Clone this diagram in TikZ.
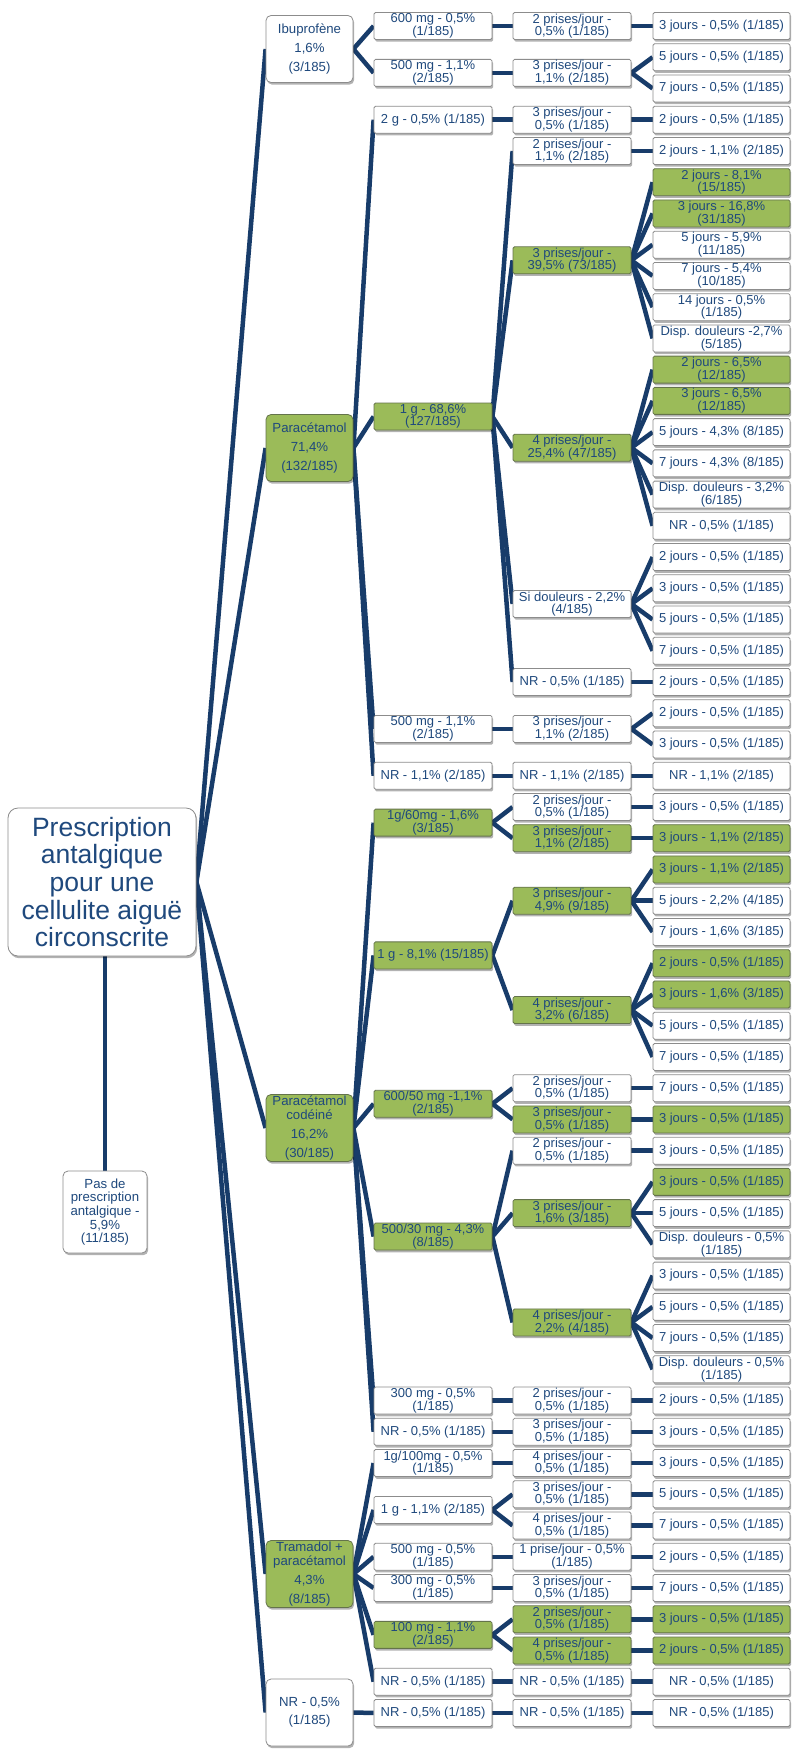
\documentclass[tikz,border=0pt]{standalone}
\usepackage{fontspec}
\setmainfont{Liberation Sans}
\usetikzlibrary{shadows}
\definecolor{txtblue}{RGB}{31,73,125}
\definecolor{lineblue}{RGB}{24,60,106}
\definecolor{boxgreen}{RGB}{155,187,89}
\definecolor{greenborder}{RGB}{100,115,75}
\pgfdeclarelayer{lines}
\pgfsetlayers{lines,main}
\newcommand{\R}[1]{#1*31.24-5.24}
\newcommand{\cn}[2]{\draw[conn] (#1.east) -- (#2.west);}
\tikzset{
 base/.style={rectangle, align=center, text=txtblue, inner sep=1pt, draw=black!45, line width=0.8pt,
   drop shadow={shadow xshift=1.2pt, shadow yshift=-2.2pt, opacity=0.3, fill=black}},
 wbox/.style={base, fill=white},
 gbox/.style={base, fill=boxgreen, draw=greenborder},
 sbox/.style={font=\fontsize{13}{12.6}\selectfont, minimum height=27pt, rounded corners=1.5pt},
 c2/.style={sbox, minimum width=118pt},
 c3/.style={sbox, minimum width=118pt},
 c4/.style={sbox, minimum width=137pt},
 c1/.style={font=\fontsize{13.2}{19}\selectfont, minimum width=87pt, minimum height=67pt, rounded corners=5pt},
 conn/.style={draw=lineblue, line width=4.5pt},
}
\begin{document}
\begin{tikzpicture}[x=1pt,y=-1pt]
\useasboundingbox (0,0) rectangle (795,1752);
\begin{pgfonlayer}{lines}
\fill[white] (0,0) rectangle (795,1752);
\end{pgfonlayer}
% root
\node[wbox, font=\fontsize{26.5}{27.6}\selectfont, minimum width=188pt, minimum height=148pt, rounded corners=10pt] (root) at (102,882)
 {Prescription\\antalgique\\pour une\\cellulite aiguë\\circonscrite};
\node[wbox, font=\fontsize{13.2}{13.7}\selectfont, minimum width=84pt, minimum height=82pt, rounded corners=5pt] (pas) at (105,1212)
 {Pas de\\prescription\\antalgique -\\5,9\%\\(11/185)};
% column 1
\node[wbox,c1] (ib) at (309.5,49) {Ibuprofène\\1,6\%\\(3/185)};
\node[gbox,c1] (para) at (309.5,448) {Paracétamol\\71,4\%\\(132/185)};
\node[gbox,c1] (cod) at (309.5,1128) {Paracétamol\\[-5pt]codéiné\\16,2\%\\(30/185)};
\node[gbox,c1] (tram) at (309.5,1574) {Tramadol +\\[-5pt]paracétamol\\4,3\%\\(8/185)};
\node[wbox,c1,font=\fontsize{13.2}{18.4}\selectfont] (nrA) at (309.5,1712.5) {NR - 0,5\%\\(1/185)};
% column 2
\node[wbox,c2] (c2a) at (433,{\R{1}}) {600 mg - 0,5\%\\(1/185)};
\node[wbox,c2] (c2b) at (433,{\R{2.5}}) {500 mg - 1,1\%\\(2/185)};
\node[wbox,c2] (c2c) at (433,{\R{4}}) {2 g - 0,5\% (1/185)};
\node[gbox,c2] (c2d) at (433,{\R{13.5}}) {1 g - 68,6\%\\(127/185)};
\node[wbox,c2] (c2e) at (433,{\R{23.5}}) {500 mg - 1,1\%\\(2/185)};
\node[wbox,c2] (c2f) at (433,{\R{25}}) {NR - 1,1\% (2/185)};
\node[gbox,c2] (c2g) at (433,{\R{26.5}}) {1g/60mg - 1,6\%\\(3/185)};
\node[gbox,c2] (c2h) at (433,{\R{30.75}}) {1 g - 8,1\% (15/185)};
\node[gbox,c2] (c2i) at (433,{\R{35.5}}) {600/50 mg -1,1\%\\(2/185)};
\node[gbox,c2] (c2j) at (433,{\R{39.75}}) {500/30 mg - 4,3\%\\(8/185)};
\node[wbox,c2] (c2k) at (433,{\R{45}}) {300 mg - 0,5\%\\(1/185)};
\node[wbox,c2] (c2l) at (433,{\R{46}}) {NR - 0,5\% (1/185)};
\node[wbox,c2] (c2m) at (433,{\R{47}}) {1g/100mg - 0,5\%\\(1/185)};
\node[wbox,c2] (c2n) at (433,{\R{48.5}}) {1 g - 1,1\% (2/185)};
\node[wbox,c2] (c2o) at (433,{\R{50}}) {500 mg - 0,5\%\\(1/185)};
\node[wbox,c2] (c2p) at (433,{\R{51}}) {300 mg - 0,5\%\\(1/185)};
\node[gbox,c2] (c2q) at (433,{\R{52.5}}) {100 mg - 1,1\%\\(2/185)};
\node[wbox,c2] (c2r) at (433,{\R{54}}) {NR - 0,5\% (1/185)};
\node[wbox,c2] (c2s) at (433,{\R{55}}) {NR - 0,5\% (1/185)};
% column 3
\node[wbox,c3] (c3a) at (572,{\R{1}}) {2 prises/jour -\\0,5\% (1/185)};
\node[wbox,c3] (c3b) at (572,{\R{2.5}}) {3 prises/jour -\\1,1\% (2/185)};
\node[wbox,c3] (c3c) at (572,{\R{4}}) {3 prises/jour -\\0,5\% (1/185)};
\node[wbox,c3] (c3d) at (572,{\R{5}}) {2 prises/jour -\\1,1\% (2/185)};
\node[gbox,c3] (c3e) at (572,{\R{8.5}}) {3 prises/jour -\\39,5\% (73/185)};
\node[gbox,c3] (c3f) at (572,{\R{14.5}}) {4 prises/jour -\\25,4\% (47/185)};
\node[wbox,c3] (c3g) at (572,{\R{19.5}}) {Si douleurs - 2,2\%\\(4/185)};
\node[wbox,c3] (c3h) at (572,{\R{22}}) {NR - 0,5\% (1/185)};
\node[wbox,c3] (c3i) at (572,{\R{23.5}}) {3 prises/jour -\\1,1\% (2/185)};
\node[wbox,c3] (c3j) at (572,{\R{25}}) {NR - 1,1\% (2/185)};
\node[wbox,c3] (c3k) at (572,{\R{26}}) {2 prises/jour -\\0,5\% (1/185)};
\node[gbox,c3] (c3l) at (572,{\R{27}}) {3 prises/jour -\\1,1\% (2/185)};
\node[gbox,c3] (c3m) at (572,{\R{29}}) {3 prises/jour -\\4,9\% (9/185)};
\node[gbox,c3] (c3n) at (572,{\R{32.5}}) {4 prises/jour -\\3,2\% (6/185)};
\node[wbox,c3] (c3o) at (572,{\R{35}}) {2 prises/jour -\\0,5\% (1/185)};
\node[gbox,c3] (c3p) at (572,{\R{36}}) {3 prises/jour -\\0,5\% (1/185)};
\node[wbox,c3] (c3q) at (572,{\R{37}}) {2 prises/jour -\\0,5\% (1/185)};
\node[gbox,c3] (c3r) at (572,{\R{39}}) {3 prises/jour -\\1,6\% (3/185)};
\node[gbox,c3] (c3s) at (572,{\R{42.5}}) {4 prises/jour -\\2,2\% (4/185)};
\node[wbox,c3] (c3t) at (572,{\R{45}}) {2 prises/jour -\\0,5\% (1/185)};
\node[wbox,c3] (c3u) at (572,{\R{46}}) {3 prises/jour -\\0,5\% (1/185)};
\node[wbox,c3] (c3v) at (572,{\R{47}}) {4 prises/jour -\\0,5\% (1/185)};
\node[wbox,c3] (c3w) at (572,{\R{48}}) {3 prises/jour -\\0,5\% (1/185)};
\node[wbox,c3] (c3x) at (572,{\R{49}}) {4 prises/jour -\\0,5\% (1/185)};
\node[wbox,c3] (c3y) at (572,{\R{50}}) {1 prise/jour - 0,5\%\\(1/185)};
\node[wbox,c3] (c3z) at (572,{\R{51}}) {3 prises/jour -\\0,5\% (1/185)};
\node[gbox,c3] (c3aa) at (572,{\R{52}}) {2 prises/jour -\\0,5\% (1/185)};
\node[gbox,c3] (c3ab) at (572,{\R{53}}) {4 prises/jour -\\0,5\% (1/185)};
\node[wbox,c3] (c3ac) at (572,{\R{54}}) {NR - 0,5\% (1/185)};
\node[wbox,c3] (c3ad) at (572,{\R{55}}) {NR - 0,5\% (1/185)};
% column 4
\node[wbox,c4] (d1) at (721.5,{\R{1}}) {3 jours - 0,5\% (1/185)};
\node[wbox,c4] (d2) at (721.5,{\R{2}}) {5 jours - 0,5\% (1/185)};
\node[wbox,c4] (d3) at (721.5,{\R{3}}) {7 jours - 0,5\% (1/185)};
\node[wbox,c4] (d4) at (721.5,{\R{4}}) {2 jours - 0,5\% (1/185)};
\node[wbox,c4] (d5) at (721.5,{\R{5}}) {2 jours - 1,1\% (2/185)};
\node[gbox,c4] (d6) at (721.5,{\R{6}}) {2 jours - 8,1\%\\(15/185)};
\node[gbox,c4] (d7) at (721.5,{\R{7}}) {3 jours - 16,8\%\\(31/185)};
\node[wbox,c4] (d8) at (721.5,{\R{8}}) {5 jours - 5,9\%\\(11/185)};
\node[wbox,c4] (d9) at (721.5,{\R{9}}) {7 jours - 5,4\%\\(10/185)};
\node[wbox,c4] (d10) at (721.5,{\R{10}}) {14 jours - 0,5\%\\(1/185)};
\node[wbox,c4] (d11) at (721.5,{\R{11}}) {Disp. douleurs -2,7\%\\(5/185)};
\node[gbox,c4] (d12) at (721.5,{\R{12}}) {2 jours - 6,5\%\\(12/185)};
\node[gbox,c4] (d13) at (721.5,{\R{13}}) {3 jours - 6,5\%\\(12/185)};
\node[wbox,c4] (d14) at (721.5,{\R{14}}) {5 jours - 4,3\% (8/185)};
\node[wbox,c4] (d15) at (721.5,{\R{15}}) {7 jours - 4,3\% (8/185)};
\node[wbox,c4] (d16) at (721.5,{\R{16}}) {Disp. douleurs - 3,2\%\\(6/185)};
\node[wbox,c4] (d17) at (721.5,{\R{17}}) {NR - 0,5\% (1/185)};
\node[wbox,c4] (d18) at (721.5,{\R{18}}) {2 jours - 0,5\% (1/185)};
\node[wbox,c4] (d19) at (721.5,{\R{19}}) {3 jours - 0,5\% (1/185)};
\node[wbox,c4] (d20) at (721.5,{\R{20}}) {5 jours - 0,5\% (1/185)};
\node[wbox,c4] (d21) at (721.5,{\R{21}}) {7 jours - 0,5\% (1/185)};
\node[wbox,c4] (d22) at (721.5,{\R{22}}) {2 jours - 0,5\% (1/185)};
\node[wbox,c4] (d23) at (721.5,{\R{23}}) {2 jours - 0,5\% (1/185)};
\node[wbox,c4] (d24) at (721.5,{\R{24}}) {3 jours - 0,5\% (1/185)};
\node[wbox,c4] (d25) at (721.5,{\R{25}}) {NR - 1,1\% (2/185)};
\node[wbox,c4] (d26) at (721.5,{\R{26}}) {3 jours - 0,5\% (1/185)};
\node[gbox,c4] (d27) at (721.5,{\R{27}}) {3 jours - 1,1\% (2/185)};
\node[gbox,c4] (d28) at (721.5,{\R{28}}) {3 jours - 1,1\% (2/185)};
\node[wbox,c4] (d29) at (721.5,{\R{29}}) {5 jours - 2,2\% (4/185)};
\node[wbox,c4] (d30) at (721.5,{\R{30}}) {7 jours - 1,6\% (3/185)};
\node[gbox,c4] (d31) at (721.5,{\R{31}}) {2 jours - 0,5\% (1/185)};
\node[gbox,c4] (d32) at (721.5,{\R{32}}) {3 jours - 1,6\% (3/185)};
\node[wbox,c4] (d33) at (721.5,{\R{33}}) {5 jours - 0,5\% (1/185)};
\node[wbox,c4] (d34) at (721.5,{\R{34}}) {7 jours - 0,5\% (1/185)};
\node[wbox,c4] (d35) at (721.5,{\R{35}}) {7 jours - 0,5\% (1/185)};
\node[gbox,c4] (d36) at (721.5,{\R{36}}) {3 jours - 0,5\% (1/185)};
\node[wbox,c4] (d37) at (721.5,{\R{37}}) {3 jours - 0,5\% (1/185)};
\node[gbox,c4] (d38) at (721.5,{\R{38}}) {3 jours - 0,5\% (1/185)};
\node[wbox,c4] (d39) at (721.5,{\R{39}}) {5 jours - 0,5\% (1/185)};
\node[wbox,c4] (d40) at (721.5,{\R{40}}) {Disp. douleurs - 0,5\%\\(1/185)};
\node[wbox,c4] (d41) at (721.5,{\R{41}}) {3 jours - 0,5\% (1/185)};
\node[wbox,c4] (d42) at (721.5,{\R{42}}) {5 jours - 0,5\% (1/185)};
\node[wbox,c4] (d43) at (721.5,{\R{43}}) {7 jours - 0,5\% (1/185)};
\node[wbox,c4] (d44) at (721.5,{\R{44}}) {Disp. douleurs - 0,5\%\\(1/185)};
\node[wbox,c4] (d45) at (721.5,{\R{45}}) {2 jours - 0,5\% (1/185)};
\node[wbox,c4] (d46) at (721.5,{\R{46}}) {3 jours - 0,5\% (1/185)};
\node[wbox,c4] (d47) at (721.5,{\R{47}}) {3 jours - 0,5\% (1/185)};
\node[wbox,c4] (d48) at (721.5,{\R{48}}) {5 jours - 0,5\% (1/185)};
\node[wbox,c4] (d49) at (721.5,{\R{49}}) {7 jours - 0,5\% (1/185)};
\node[wbox,c4] (d50) at (721.5,{\R{50}}) {2 jours - 0,5\% (1/185)};
\node[wbox,c4] (d51) at (721.5,{\R{51}}) {7 jours - 0,5\% (1/185)};
\node[gbox,c4] (d52) at (721.5,{\R{52}}) {3 jours - 0,5\% (1/185)};
\node[gbox,c4] (d53) at (721.5,{\R{53}}) {2 jours - 0,5\% (1/185)};
\node[wbox,c4] (d54) at (721.5,{\R{54}}) {NR - 0,5\% (1/185)};
\node[wbox,c4] (d55) at (721.5,{\R{55}}) {NR - 0,5\% (1/185)};
% connectors
\begin{pgfonlayer}{lines}
\draw[conn] (pas.north |- root.south) -- (pas.north);
\cn{root}{ib}\cn{root}{para}\cn{root}{cod}\cn{root}{tram}\cn{root}{nrA}
\cn{ib}{c2a}\cn{ib}{c2b}
\cn{para}{c2c}\cn{para}{c2d}\cn{para}{c2e}\cn{para}{c2f}
\cn{cod}{c2g}\cn{cod}{c2h}\cn{cod}{c2i}\cn{cod}{c2j}\cn{cod}{c2k}\cn{cod}{c2l}
\cn{tram}{c2m}\cn{tram}{c2n}\cn{tram}{c2o}\cn{tram}{c2p}\cn{tram}{c2q}\cn{tram}{c2r}
\cn{nrA}{c2s}
\cn{c2a}{c3a}\cn{c2b}{c3b}\cn{c2c}{c3c}
\cn{c2d}{c3d}\cn{c2d}{c3e}\cn{c2d}{c3f}\cn{c2d}{c3g}\cn{c2d}{c3h}
\cn{c2e}{c3i}\cn{c2f}{c3j}\cn{c2g}{c3k}\cn{c2g}{c3l}
\cn{c2h}{c3m}\cn{c2h}{c3n}\cn{c2i}{c3o}\cn{c2i}{c3p}
\cn{c2j}{c3q}\cn{c2j}{c3r}\cn{c2j}{c3s}
\cn{c2k}{c3t}\cn{c2l}{c3u}\cn{c2m}{c3v}\cn{c2n}{c3w}\cn{c2n}{c3x}
\cn{c2o}{c3y}\cn{c2p}{c3z}\cn{c2q}{c3aa}\cn{c2q}{c3ab}\cn{c2r}{c3ac}\cn{c2s}{c3ad}
\cn{c3a}{d1}\cn{c3b}{d2}\cn{c3b}{d3}\cn{c3c}{d4}\cn{c3d}{d5}
\foreach \i in {6,...,11}{\cn{c3e}{d\i}}
\foreach \i in {12,...,17}{\cn{c3f}{d\i}}
\foreach \i in {18,...,21}{\cn{c3g}{d\i}}
\cn{c3h}{d22}\cn{c3i}{d23}\cn{c3i}{d24}\cn{c3j}{d25}\cn{c3k}{d26}\cn{c3l}{d27}
\cn{c3m}{d28}\cn{c3m}{d29}\cn{c3m}{d30}
\foreach \i in {31,...,34}{\cn{c3n}{d\i}}
\cn{c3o}{d35}\cn{c3p}{d36}\cn{c3q}{d37}
\cn{c3r}{d38}\cn{c3r}{d39}\cn{c3r}{d40}
\foreach \i in {41,...,44}{\cn{c3s}{d\i}}
\cn{c3t}{d45}\cn{c3u}{d46}\cn{c3v}{d47}\cn{c3w}{d48}\cn{c3x}{d49}
\cn{c3y}{d50}\cn{c3z}{d51}\cn{c3aa}{d52}\cn{c3ab}{d53}\cn{c3ac}{d54}\cn{c3ad}{d55}
\end{pgfonlayer}
\end{tikzpicture}
\end{document}
